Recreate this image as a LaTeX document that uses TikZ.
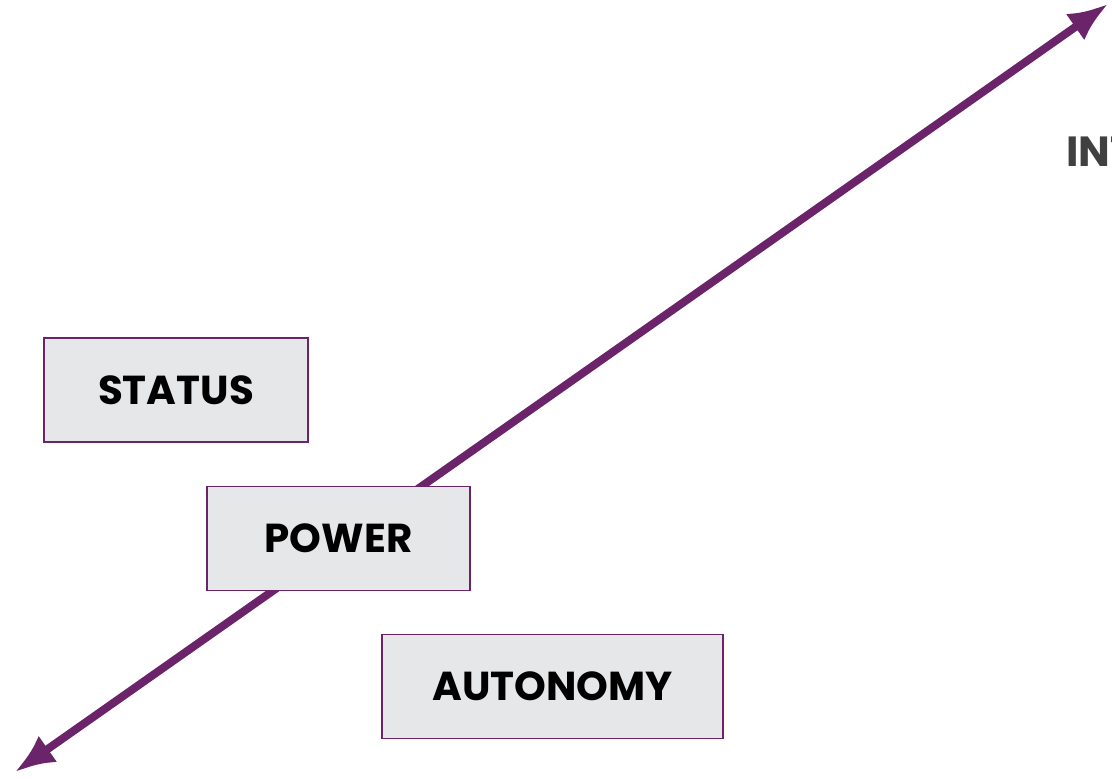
\documentclass[tikz,border=0pt]{standalone}
\usepackage{fontspec}
\setmainfont{Poppins}
\usetikzlibrary{arrows.meta}

\definecolor{plum}{HTML}{6B2469}
\definecolor{boxgray}{HTML}{E6E7E9}
\definecolor{labelgray}{HTML}{404040}

\begin{document}
\begin{tikzpicture}[
    x=0.02cm, y=-0.02cm,
    axisarrow/.style={draw=plum, line width=0.16cm,
      {Latex[length=8mm,width=6.4mm]}-{Latex[length=8mm,width=6.4mm]}},
    factorbox/.style={draw=plum, fill=boxgray, line width=1.1pt,
      inner sep=0pt, minimum height=2.08cm,
      font=\fontsize{23}{27}\selectfont\bfseries}
  ]
    \useasboundingbox (0,0) rectangle (1112,778);
    \clip (0,0) rectangle (1112,778);

      % the axis, drawn first so the boxes sit on top
      \coordinate (lo) at (15,772);
      \coordinate (hi) at (1108,4);
      \draw[axisarrow] (lo) -- (hi);

      \node[anchor=west, text=labelgray, inner sep=0pt,
        font=\fontsize{24}{28}\selectfont\bfseries] (axislabel) at (1066,152) {INT};

      \node[factorbox, minimum width=5.28cm] (status) at (176,390) {STATUS};
      \node[factorbox, minimum width=5.26cm] (power) at (338.5,538.5) {POWER};
      \node[factorbox, minimum width=6.82cm] (autonomy) at (552.5,686.5) {AUTONOMY};

  \end{tikzpicture}
\end{document}
